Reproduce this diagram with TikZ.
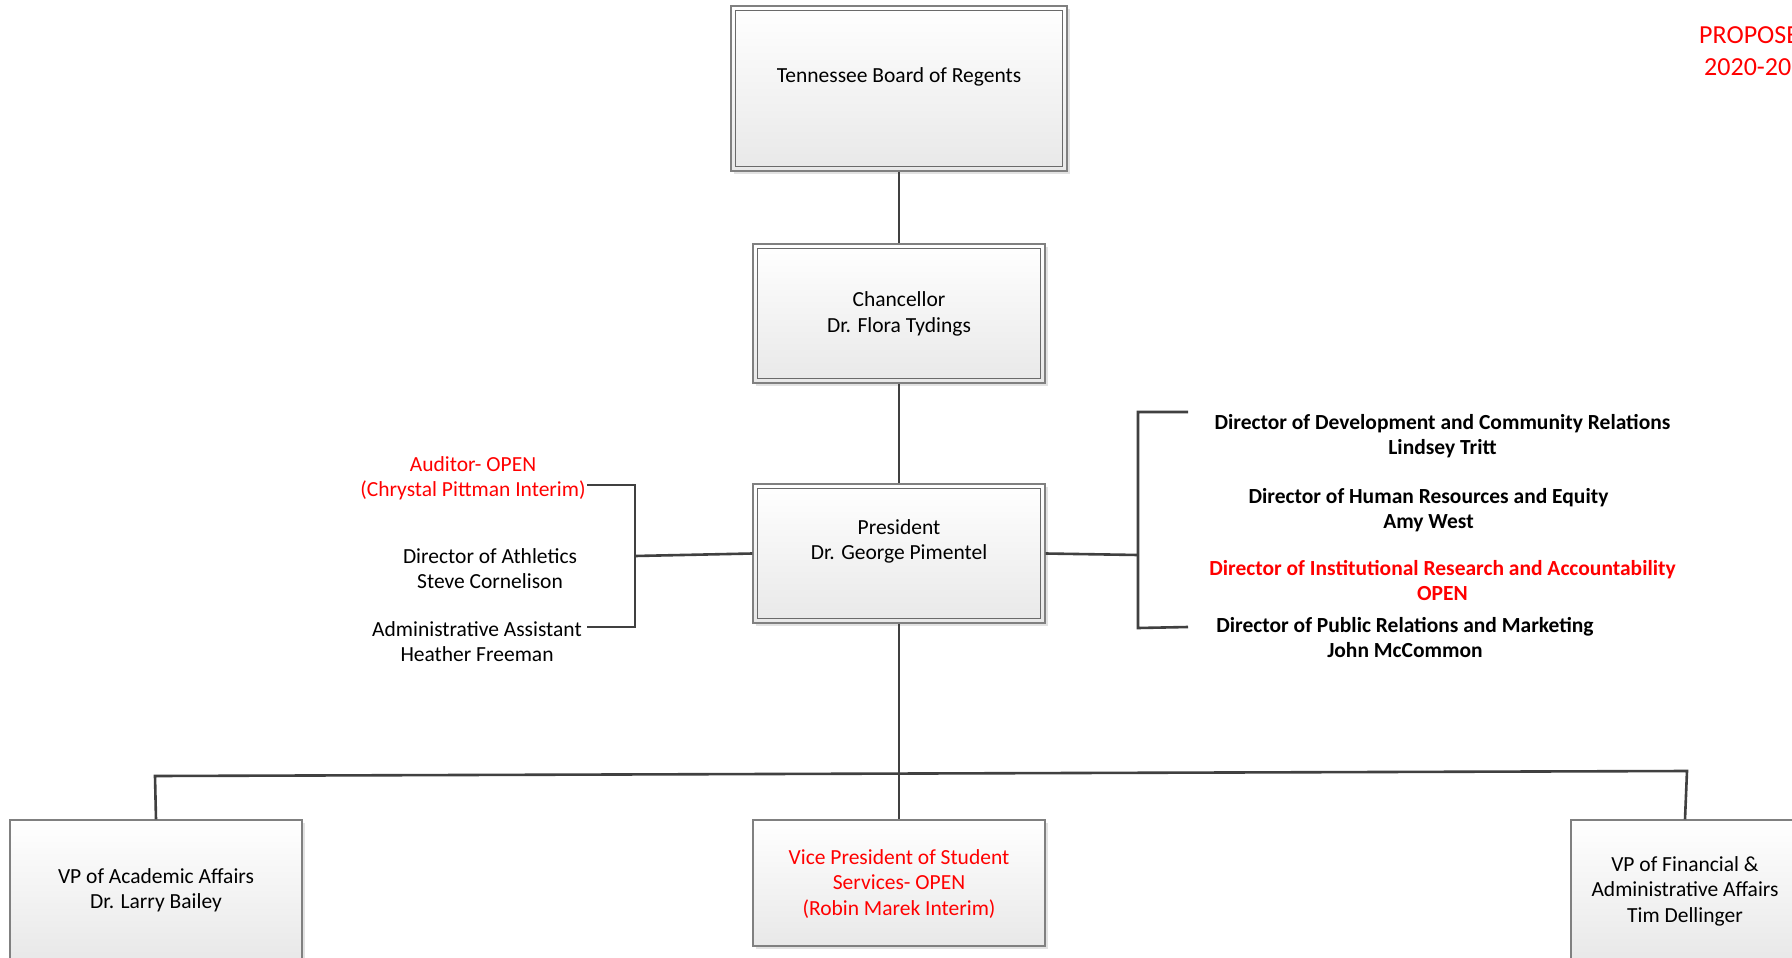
\documentclass[tikz,border=0pt]{standalone}
\usepackage{fontspec}
\setmainfont{Carlito}
\usetikzlibrary{shadows}
\definecolor{linegray}{HTML}{404040}
\definecolor{boxgray}{HTML}{808080}
\definecolor{innergray}{HTML}{6A6A6A}
\definecolor{redtext}{HTML}{FF0000}
\begin{document}
\begin{tikzpicture}[x=1pt,y=-1pt,
  txt/.style={font=\fontsize{21.5}{25.5}\selectfont, align=center, inner sep=0pt},
  boldtxt/.style={txt, font=\fontsize{21.5}{25.5}\selectfont\bfseries},
  bigtxt/.style={font=\fontsize{26}{30}\selectfont, inner sep=0pt},
  box/.style={draw=boxgray, line width=1.3pt, top color=white, bottom color=black!9,
    drop shadow={shadow xshift=3pt, shadow yshift=-3pt, fill=black!22},
    inner sep=0pt},
  innerbox/.style={draw=innergray, line width=1.2pt},
  conn/.style={draw=linegray, line width=2.6pt},
  bracket/.style={draw=linegray, line width=2.6pt, line join=miter}
]
\useasboundingbox (0,0) rectangle (1792,958);
\clip (0,0) rectangle (1792,958);
\fill[white] (0,0) rectangle (1792,958);

% ---- boxes ----
\node[box, minimum width=336pt, minimum height=165pt] (board) at (899,88.5) {};
\draw[innerbox] ([shift={(5,5)}]board.north west) rectangle ([shift={(-5,-5)}]board.south east);
\node[txt] (boardtext) at (899,77) {Tennessee Board of Regents};

\node[box, minimum width=292pt, minimum height=139pt] (chanc) at (899,313.5) {};
\draw[innerbox] ([shift={(5,5)}]chanc.north west) rectangle ([shift={(-5,-5)}]chanc.south east);
\node[txt] (chanctext) at (899,314) {Chancellor\\Dr. Flora Tydings};

\node[box, minimum width=292pt, minimum height=139pt] (pres) at (899,553.5) {};
\draw[innerbox] ([shift={(5,5)}]pres.north west) rectangle ([shift={(-5,-5)}]pres.south east);
\node[txt] (prestext) at (899,541.5) {President\\Dr. George Pimentel};

\node[box, minimum width=292pt, minimum height=140pt] (vpa) at (156,890) {};
\node[txt] (vpatext) at (156,890.5) {VP of Academic Affairs\\Dr. Larry Bailey};

\node[box, minimum width=292pt, minimum height=126pt] (vps) at (899,883) {};
\node[txt, text=redtext] (vpstext) at (899,884) {Vice President of Student\\Services- OPEN\\(Robin Marek Interim)};

\node[box, minimum width=228pt, minimum height=140pt] (vpf) at (1685,890) {};
\node[txt] (vpftext) at (1685,891) {VP of Financial \&\\Administrative Affairs\\Tim Dellinger};

% ---- side texts ----
\node[txt, text=redtext] (aud) at (473,478.5) {Auditor- OPEN\\(Chrystal Pittman Interim)};
\node[txt] (ath) at (490,568.5) {Director of Athletics\\Steve Cornelison};
\node[txt] (adm) at (477,641.5) {Administrative Assistant\\Heather Freeman};

\node[boldtxt] (dev) at (1442.5,436) {Director of Development and Community Relations\\Lindsey Tritt};
\node[boldtxt] (hr) at (1428.5,510) {Director of Human Resources and Equity\\Amy West};
\node[boldtxt, text=redtext] (ir) at (1442.5,580.5) {Director of Institutional Research and Accountability\\OPEN};
\node[boldtxt] (pr) at (1405,637.5) {Director of Public Relations and Marketing\\John McCommon};

\node[bigtxt, text=redtext, anchor=west] (prop1) at (1699,35) {PROPOSED};
\node[bigtxt, text=redtext, anchor=west] (prop2) at (1704,67) {2020-2021};

% ---- connectors ----
\draw[conn] (board.south) -- (chanc.north);
\draw[conn] (chanc.south) -- (pres.north);

% left bracket
\coordinate (lt) at (635,485);
\coordinate (lm) at (635,556);
\coordinate (lb) at (635,627);
\coordinate (laud) at (587,485);
\coordinate (ladm) at (587,627);
\draw[bracket] (laud) -- (lt) -- (lb) -- (ladm);
\draw[conn] (pres.west) -- (lm);

% right bracket
\coordinate (rt) at (1138,412);
\coordinate (rm) at (1138,555);
\coordinate (rb) at (1138,628);
\coordinate (rdev) at (1188,412);
\coordinate (rpr) at (1188,627);
\draw[bracket] (rdev) -- (rt) -- (rb) -- (rpr);
\draw[conn] (pres.east) -- (rm);

% bus to VPs
\coordinate (busL) at (155,776);
\coordinate (busM) at (899,773.5);
\coordinate (busR) at (1687,771);
\draw[conn] (pres.south) -- (busM) -- (vps.north);
\draw[bracket] (vpa.north) -- (busL) -- (busR) -- (vpf.north);
\end{tikzpicture}
\end{document}
